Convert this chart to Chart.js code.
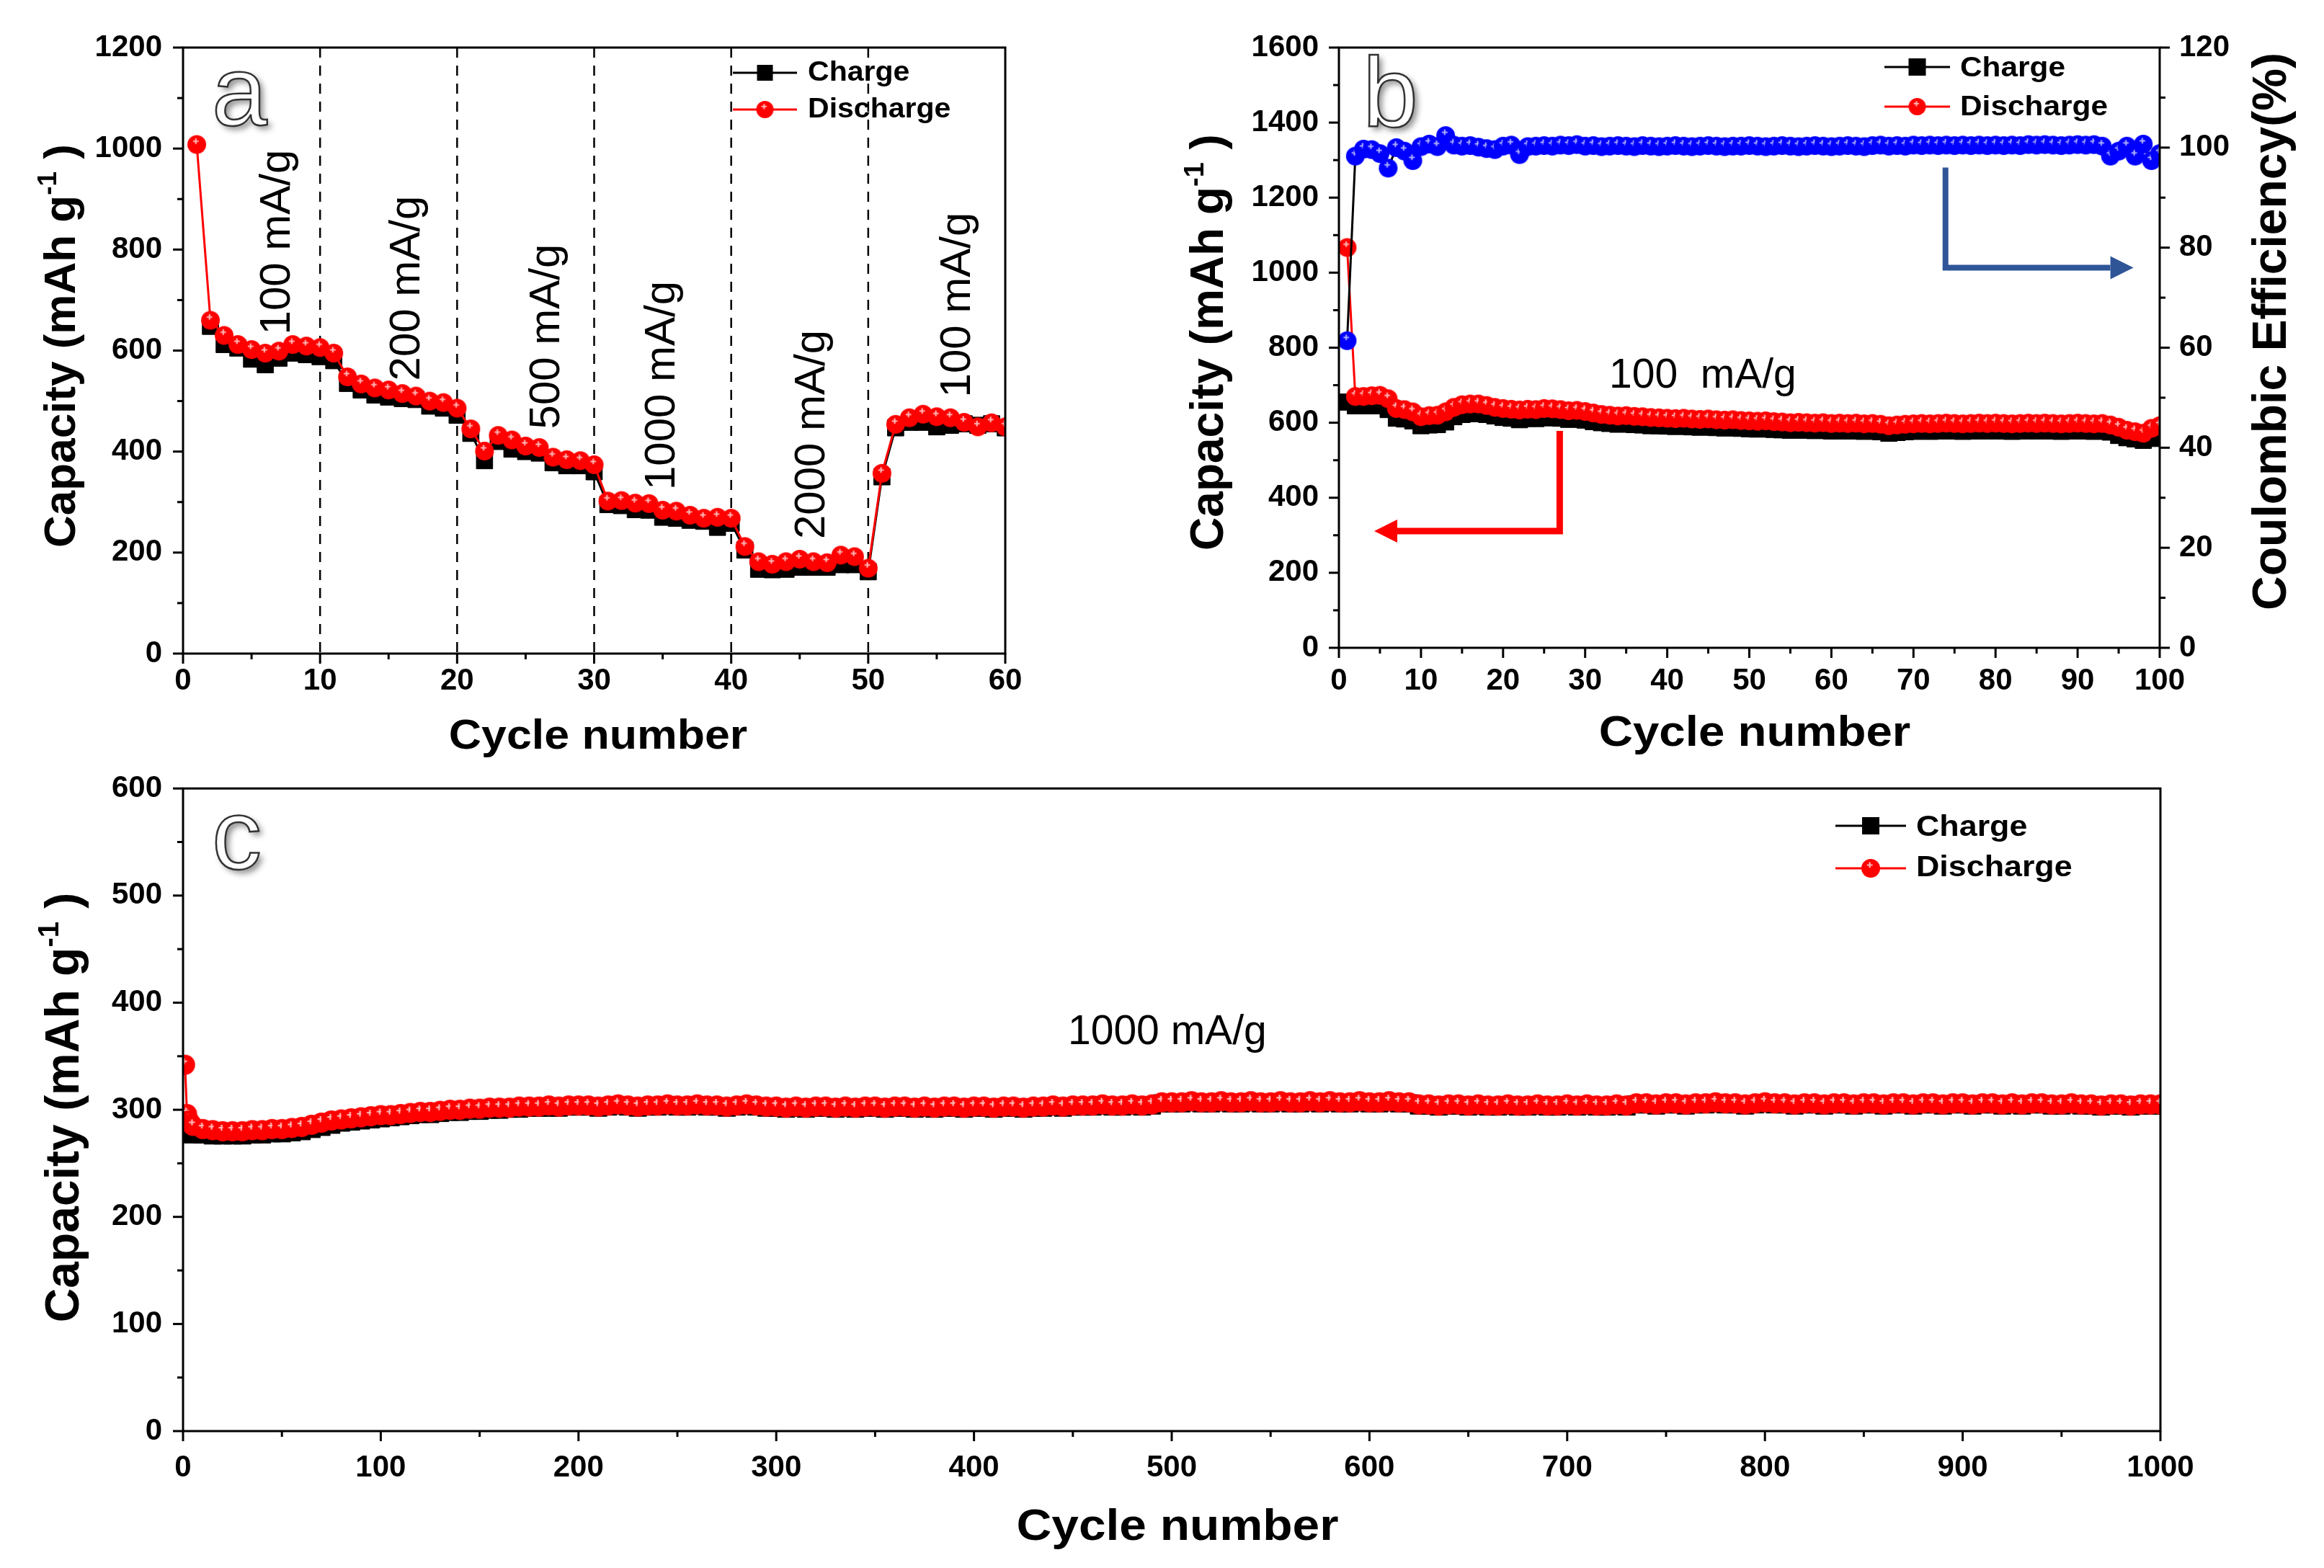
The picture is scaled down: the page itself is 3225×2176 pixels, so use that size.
<!DOCTYPE html>
<html><head><meta charset="utf-8">
<script src="https://cdn.jsdelivr.net/npm/chart.js@4.4.1/dist/chart.umd.min.js"></script>
<style>
html,body{margin:0;padding:0;background:#fff;}
#wrap{position:relative;width:3225px;height:2176px;background:#fff;overflow:hidden;}
canvas{position:absolute;}
</style></head><body>
<div id="wrap">
<canvas id="cA" width="1500" height="1080" style="left:0;top:0;width:1500px;height:1080px"></canvas>
<canvas id="cB" width="1665" height="1080" style="left:1560px;top:0;width:1665px;height:1080px"></canvas>
<canvas id="cC" width="3225" height="1136" style="left:0;top:1040px;width:3225px;height:1136px"></canvas>
</div>
<script>
const FONT = '"Liberation Sans", Arial, Helvetica, sans-serif';

// ---------- Panel a : rate capability ----------
const dischargeA = [1008,660,630,612,602,595,599,612,609,606, 595,548,534,526,522,515,510,500,497,486,
  445,401,432,423,411,408,389,384,382,374, 302,303,298,297,284,282,274,268,270,268,
  212,182,177,182,187,182,180,195,192,169, 357,454,467,474,469,467,458,449,457,449];
const chargeA = [null,648,612,605,583,572,585,595,592,588, 580,535,522,512,508,505,503,490,486,472,
  436,382,420,405,400,397,378,372,372,360, 295,293,285,284,270,268,264,262,250,258,
  205,167,166,167,171,171,171,176,176,162, 350,447,458,458,449,452,455,452,455,447];
const rateLabelsA = ['100 mA/g','200 mA/g','500 mA/g','1000 mA/g','2000 mA/g','100 mA/g'];
const rateBoundsA = [10,20,30,40,50];

// ---------- Panel b : cycling at 100 mA/g ----------
const dischargeB = [1067,670,670,672,673,664,638,635,629,616, 619,620,629,641,648,650,650,646,641,638,
  636,634,636,635,638,637,635,632,633,630, 626,622,620,618,619,617,616,614,613,612,
  611,612,610,609,610,608,607,608,606,605, 604,605,603,602,600,601,600,599,600,598,
  599,598,599,597,598,596,592,594,596,597, 598,597,598,599,598,597,598,599,598,599,
  598,597,598,599,598,599,598,597,598,599, 598,597,598,594,588,580,576,572,585,592];
const chargeB = [655,645,645,646,645,635,612,610,605,592, 594,595,602,616,622,624,625,622,618,614,
  612,608,612,611,614,613,612,609,610,607, 603,600,598,596,597,595,594,592,592,591,
  590,591,589,588,589,587,586,587,585,584, 583,584,582,581,580,581,580,579,580,578,
  579,578,579,577,578,576,572,574,576,577, 578,577,578,579,578,577,578,579,578,579,
  578,577,578,579,578,579,578,577,578,579, 578,577,578,575,566,560,557,553,558,562];
const ceB = [61.4,98.3,99.7,99.6,98.8,95.9,100.0,99.3,97.4,100.2, 100.7,100.2,102.4,100.5,100.3,100.4,100.1,99.8,99.6,100.3,
  100.5,98.6,100.2,100.3,100.4,100.3,100.5,100.4,100.6,100.3, 100.4,100.2,100.3,100.4,100.3,100.2,100.4,100.3,100.2,100.3,
  100.4,100.3,100.2,100.3,100.4,100.3,100.2,100.3,100.3,100.4, 100.3,100.2,100.3,100.4,100.3,100.2,100.3,100.4,100.3,100.2,
  100.3,100.4,100.3,100.2,100.4,100.5,100.3,100.4,100.3,100.5, 100.4,100.5,100.4,100.5,100.4,100.5,100.4,100.5,100.4,100.5,
  100.4,100.5,100.4,100.6,100.5,100.6,100.5,100.4,100.5,100.6, 100.5,100.6,100.3,98.3,99.3,100.3,98.3,100.7,97.4,98.8];

// ---------- Panel c : long cycling at 1000 mA/g (read every 5 cycles) ----------
const cycleC = [1,2,3,4].concat(Array.from({length:200}, (_, i) => 5 * (i + 1)));
const dischargeC = [342,296,290,287,
  285,282,281,280,280,280,281,281,282,282, 283,284,286,288,290,291,292,293,294,295,
  295,296,297,298,298,299,300,300,301,301, 302,302,302,303,303,303,304,303,304,304,
  304,303,304,305,304,303,304,304,305,304, 304,305,304,304,303,304,305,304,303,303,
  302,303,302,303,303,302,303,302,303,303, 302,303,303,302,303,302,303,303,302,303,
  303,302,303,303,302,303,303,304,303,304, 304,304,305,304,304,305,304,305,307,307,
  307,308,307,307,308,307,307,308,307,307, 308,307,307,308,307,308,307,307,308,307,
  307,308,307,307,305,305,304,305,305,304, 305,304,304,305,304,304,305,304,304,305,
  304,305,304,304,305,304,306,306,305,306, 306,305,306,306,307,306,306,305,306,307,
  306,306,305,306,306,305,306,306,305,306, 306,305,306,306,305,306,306,305,306,306,
  305,306,306,305,306,305,306,306,305,305, 306,305,305,304,305,305,304,305,305,305];
const chargeC = [290,283,279,278,
  277,277,276,276,276,276,277,277,278,278, 279,280,282,284,286,288,289,290,291,292,
  293,294,295,296,296,297,298,298,299,299, 300,300,301,301,302,302,302,302,303,303,
  303,302,303,304,303,302,303,303,304,303, 303,304,303,303,302,303,304,303,302,302,
  301,302,301,302,302,301,302,301,302,302, 301,302,302,301,302,301,302,302,301,302,
  302,301,302,302,301,302,302,303,302,303, 303,303,304,303,303,304,303,304,306,306,
  306,307,306,306,307,306,306,307,306,306, 307,306,306,307,306,307,306,306,307,306,
  306,307,306,306,304,304,303,304,304,303, 304,303,303,304,303,303,304,303,303,304,
  303,304,303,303,304,303,305,305,304,305, 305,304,305,305,306,305,305,304,305,306,
  305,305,304,305,305,304,305,305,304,305, 305,304,305,305,304,305,305,304,305,305,
  304,305,305,304,305,304,305,305,304,304, 305,304,304,303,304,304,303,304,304,304];

// ---------- helpers ----------
function cycles(n){ return Array.from({length:n}, (_, i) => i + 1); }
function pts(xs, ys){ return ys.map((y, i) => (y == null ? null : {x: xs[i], y: y})).filter(Boolean); }

function sprite(r, fill, spark){
  const c = document.createElement('canvas');
  const s = Math.ceil(2 * r + 2); c.width = s; c.height = s;
  const g = c.getContext('2d');
  g.fillStyle = fill; g.beginPath(); g.arc(s / 2, s / 2, r, 0, 2 * Math.PI); g.fill();
  g.strokeStyle = spark; g.lineWidth = Math.max(1.5, r * 0.16);
  const cx = s / 2 - r * 0.1, cy = s / 2 - r * 0.35, a = r * 0.3;
  g.beginPath(); g.moveTo(cx - a, cy); g.lineTo(cx + a, cy); g.moveTo(cx, cy - a); g.lineTo(cx, cy + a); g.stroke();
  return c;
}
const red12 = sprite(12, '#FF0000', '#FFB8B8');
const red13 = sprite(13, '#FF0000', '#FFB8B8');
const red14 = sprite(14, '#FF0000', '#FFB8B8');
const blue13 = sprite(13, '#0000FF', '#AEB0FF');

function frameAndTicks(chart, specs){
  const ctx = chart.ctx, a = chart.chartArea;
  ctx.save(); ctx.strokeStyle = '#000'; ctx.lineWidth = 3;
  ctx.strokeRect(a.left, a.top, a.right - a.left, a.bottom - a.top);
  specs.forEach(sp => {
    const s = chart.scales[sp.id];
    const n = Math.round((s.max - s.min) / sp.minor);
    for (let i = 0; i <= n; i++){
      const v = s.min + i * sp.minor;
      const major = Math.abs(v / sp.major - Math.round(v / sp.major)) < 1e-6;
      const len = major ? 14 : 8;
      const p = s.getPixelForValue(v);
      ctx.beginPath();
      if (sp.side === 'left'){ ctx.moveTo(a.left, p); ctx.lineTo(a.left - len, p); }
      else if (sp.side === 'right'){ ctx.moveTo(a.right, p); ctx.lineTo(a.right + len, p); }
      else { ctx.moveTo(p, a.bottom); ctx.lineTo(p, a.bottom + len); }
      ctx.stroke();
    }
  });
  ctx.restore();
}
function hText(ctx, text, x, y, size, weight, sx, align){
  ctx.save(); ctx.font = weight + ' ' + size + 'px ' + FONT; ctx.fillStyle = '#000';
  ctx.textBaseline = 'alphabetic'; ctx.textAlign = 'left';
  const w = ctx.measureText(text).width * sx;
  const x0 = align === 'center' ? x - w / 2 : x;
  ctx.translate(x0, y); ctx.scale(sx, 1); ctx.fillText(text, 0, 0); ctx.restore();
}
function vText(ctx, text, xBase, yCenter, size, weight){
  ctx.save(); ctx.font = weight + ' ' + size + 'px ' + FONT; ctx.fillStyle = '#000';
  ctx.translate(xBase, yCenter); ctx.rotate(-Math.PI / 2);
  ctx.textAlign = 'center'; ctx.textBaseline = 'alphabetic'; ctx.fillText(text, 0, 0); ctx.restore();
}
function capTitle(ctx, xBase, yCenter, size){
  ctx.save(); ctx.translate(xBase, yCenter); ctx.rotate(-Math.PI / 2);
  const big = 'bold ' + size + 'px ' + FONT, small = 'bold ' + Math.round(size * 0.6) + 'px ' + FONT;
  const p1 = 'Capacity (mAh g', p2 = '-1', p3 = ' )';
  ctx.font = big; const w1 = ctx.measureText(p1).width, w3 = ctx.measureText(p3).width;
  ctx.font = small; const w2 = ctx.measureText(p2).width;
  let x = -(w1 + w2 + w3) / 2;
  ctx.fillStyle = '#000'; ctx.textBaseline = 'alphabetic'; ctx.textAlign = 'left';
  ctx.font = big; ctx.fillText(p1, x, 0); x += w1;
  ctx.font = small; ctx.fillText(p2, x, -size * 0.42); x += w2;
  ctx.font = big; ctx.fillText(p3, x, 0);
  ctx.restore();
}
function panelLetter(ctx, ch, x, y){
  ctx.save(); ctx.font = '138px ' + FONT; ctx.textBaseline = 'alphabetic'; ctx.textAlign = 'left';
  ctx.shadowColor = 'rgba(0,0,0,0.45)'; ctx.shadowBlur = 8; ctx.shadowOffsetX = 5; ctx.shadowOffsetY = 5;
  ctx.fillStyle = '#fff'; ctx.fillText(ch, x, y);
  ctx.shadowColor = 'transparent'; ctx.lineWidth = 2.5; ctx.strokeStyle = '#333'; ctx.strokeText(ch, x, y);
  ctx.restore();
}
function legend(ctx, L){
  ctx.save(); ctx.lineWidth = 3;
  const cx = (L.x1 + L.x2) / 2;
  ctx.strokeStyle = '#000'; ctx.beginPath(); ctx.moveTo(L.x1, L.y1); ctx.lineTo(L.x2, L.y1); ctx.stroke();
  ctx.fillStyle = '#000'; ctx.fillRect(cx - L.sq / 2, L.y1 - L.sq / 2, L.sq, L.sq);
  ctx.strokeStyle = '#FF0000'; ctx.beginPath(); ctx.moveTo(L.x1, L.y2); ctx.lineTo(L.x2, L.y2); ctx.stroke();
  ctx.drawImage(L.dot, cx - L.dot.width / 2, L.y2 - L.dot.height / 2);
  ctx.restore();
  hText(ctx, 'Charge', L.tx, L.tb1, L.size, 'bold', L.sx, 'left');
  hText(ctx, 'Discharge', L.tx, L.tb2, L.size, 'bold', L.sx, 'left');
}
function arrow(chart, ar){
  const ctx = chart.ctx, xs = chart.scales.x, ys = chart.scales[ar.axis];
  const px = xs.getPixelForValue(ar.x0), py0 = ys.getPixelForValue(ar.y0), py1 = ys.getPixelForValue(ar.y1);
  const tip = xs.getPixelForValue(ar.x1), dir = Math.sign(tip - px), head = 32, hw = 16;
  ctx.save(); ctx.strokeStyle = ar.color; ctx.fillStyle = ar.color; ctx.lineWidth = ar.w; ctx.lineJoin = 'miter'; ctx.lineCap = 'butt';
  ctx.beginPath(); ctx.moveTo(px, py0); ctx.lineTo(px, py1); ctx.lineTo(tip - dir * head, py1); ctx.stroke();
  ctx.beginPath(); ctx.moveTo(tip, py1); ctx.lineTo(tip - dir * head, py1 - hw); ctx.lineTo(tip - dir * head, py1 + hw); ctx.closePath(); ctx.fill();
  ctx.restore();
}
function tickFont(){ return {family: FONT, size: 42, weight: 'bold'}; }
function axis(min, max, step, pad, fit, extra){
  return Object.assign({
    type: 'linear', min: min, max: max,
    grid: {display: false, drawTicks: false}, border: {display: false},
    ticks: {stepSize: step, font: tickFont(), color: '#000', padding: pad, maxRotation: 0, minRotation: 0,
            autoSkip: false, callback: v => String(v)},
    afterFit: fit
  }, extra || {});
}
Chart.defaults.font.family = FONT;
Chart.defaults.color = '#000';
const common = {responsive: false, animation: false, devicePixelRatio: 1, events: [],
  plugins: {legend: {display: false}, tooltip: {enabled: false}}};

// ---------- Chart a ----------
new Chart(document.getElementById('cA'), {
  type: 'line',
  data: {datasets: [
    {label: 'Discharge', data: pts(cycles(60), dischargeA), borderColor: '#FF0000', borderWidth: 3,
     pointStyle: red13, pointRadius: 13, order: 0, clip: 0, tension: 0},
    {label: 'Charge', data: pts(cycles(60), chargeA), borderColor: '#000', borderWidth: 3,
     pointStyle: 'rect', pointRadius: 16, pointBackgroundColor: '#000', pointBorderColor: '#000', pointBorderWidth: 1,
     order: 1, clip: 0, tension: 0}
  ]},
  options: Object.assign({}, common, {
    layout: {padding: {top: 66, right: 105, left: 0, bottom: 0}},
    scales: {
      x: axis(0, 60, 10, 13, s => { s.height = 173; }),
      y: axis(0, 1200, 200, 29, s => { s.width = 254; })
    }
  }),
  plugins: [{id: 'decorA',
    beforeDatasetsDraw(chart){
      const ctx = chart.ctx, a = chart.chartArea, xs = chart.scales.x;
      ctx.save(); ctx.strokeStyle = '#000'; ctx.lineWidth = 2.5; ctx.setLineDash([14, 11]);
      rateBoundsA.forEach(v => { const p = xs.getPixelForValue(v); ctx.beginPath(); ctx.moveTo(p, a.top); ctx.lineTo(p, a.bottom); ctx.stroke(); });
      ctx.restore();
    },
    afterDraw(chart){
      const ctx = chart.ctx;
      frameAndTicks(chart, [{id: 'x', side: 'bottom', major: 10, minor: 5}, {id: 'y', side: 'left', major: 200, minor: 100}]);
      const pos = [[402, 336], [582, 400], [776, 467], [936, 535], [1144, 603], [1346, 423]];
      rateLabelsA.forEach((t, i) => vText(ctx, t, pos[i][0], pos[i][1], 60, 'normal'));
      capTitle(ctx, 104, 480, 62);
      hText(ctx, 'Cycle number', 830, 1039, 58, 'bold', 1.08, 'center');
      legend(ctx, {x1: 1017, x2: 1106, y1: 101, y2: 152, tx: 1121, tb1: 112, tb2: 163, size: 38, sx: 1.08, sq: 22, dot: red12});
      panelLetter(ctx, 'a', 294, 174);
    }
  }]
});

// ---------- Chart b ----------
new Chart(document.getElementById('cB'), {
  type: 'line',
  data: {datasets: [
    {label: 'Coulombic Efficiency', data: pts(cycles(100), ceB), yAxisID: 'y1', borderColor: '#000', borderWidth: 3,
     pointStyle: blue13, pointRadius: 13, order: 0, clip: 0, tension: 0},
    {label: 'Discharge', data: pts(cycles(100), dischargeB), yAxisID: 'y', borderColor: '#FF0000', borderWidth: 3,
     pointStyle: red13, pointRadius: 13, order: 1, clip: 0, tension: 0},
    {label: 'Charge', data: pts(cycles(100), chargeB), yAxisID: 'y', borderColor: '#000', borderWidth: 3,
     pointStyle: 'rect', pointRadius: 16, pointBackgroundColor: '#000', pointBorderColor: '#000', pointBorderWidth: 1,
     order: 2, clip: 0, tension: 0}
  ]},
  options: Object.assign({}, common, {
    layout: {padding: {top: 66, right: 0, left: 0, bottom: 0}},
    scales: {
      x: axis(0, 100, 10, 21, s => { s.height = 181; }),
      y: axis(0, 1600, 200, 28, s => { s.width = 298; }, {position: 'left'}),
      y1: axis(0, 120, 20, 27, s => { s.width = 228; }, {position: 'right'})
    }
  }),
  plugins: [{id: 'decorB',
    afterDraw(chart){
      const ctx = chart.ctx;
      frameAndTicks(chart, [{id: 'x', side: 'bottom', major: 10, minor: 5}, {id: 'y', side: 'left', major: 200, minor: 100},
                            {id: 'y1', side: 'right', major: 20, minor: 10}]);
      arrow(chart, {axis: 'y', x0: 26.9, y0: 578, y1: 311, x1: 4.3, color: '#FF0000', w: 9});
      arrow(chart, {axis: 'y1', x0: 73.9, y0: 96, y1: 76, x1: 96.8, color: '#2F5597', w: 8});
      hText(ctx, '100  mA/g', 673, 538, 57, 'normal', 1, 'left');
      capTitle(ctx, 137, 475, 64);
      vText(ctx, 'Coulombic Efficiency(%)', 1612, 460, 66, 'bold');
      hText(ctx, 'Cycle number', 875, 1035, 60, 'bold', 1.09, 'center');
      legend(ctx, {x1: 1055, x2: 1146, y1: 93, y2: 148, tx: 1160, tb1: 106, tb2: 160, size: 39, sx: 1.087, sq: 24, dot: red12});
      panelLetter(ctx, 'b', 331, 176);
    }
  }]
});

// ---------- Chart c ----------
new Chart(document.getElementById('cC'), {
  type: 'line',
  data: {datasets: [
    {label: 'Discharge', data: pts(cycleC, dischargeC), borderColor: '#FF0000', borderWidth: 3,
     pointStyle: red14, pointRadius: 14, order: 0, clip: 0, tension: 0},
    {label: 'Charge', data: pts(cycleC, chargeC), borderColor: '#000', borderWidth: 3,
     pointStyle: 'rect', pointRadius: 17, pointBackgroundColor: '#000', pointBorderColor: '#000', pointBorderWidth: 1,
     order: 1, clip: 0, tension: 0}
  ]},
  options: Object.assign({}, common, {
    layout: {padding: {top: 44, right: 227, left: 0, bottom: 0}},
    scales: {
      x: axis(0, 1000, 100, 26, s => { s.height = 190; }),
      y: axis(0, 600, 100, 29, s => { s.width = 254; })
    }
  }),
  plugins: [{id: 'decorC',
    afterDraw(chart){
      const ctx = chart.ctx;
      frameAndTicks(chart, [{id: 'x', side: 'bottom', major: 100, minor: 50}, {id: 'y', side: 'left', major: 100, minor: 50}]);
      hText(ctx, '1000 mA/g', 1482, 409, 57, 'normal', 1, 'left');
      capTitle(ctx, 109, 497, 66);
      hText(ctx, 'Cycle number', 1634, 1097, 62, 'bold', 1.09, 'center');
      legend(ctx, {x1: 2547, x2: 2645, y1: 106, y2: 165, tx: 2659, tb1: 120, tb2: 176, size: 40, sx: 1.12, sq: 24, dot: red13});
      panelLetter(ctx, 'c', 294, 166);
    }
  }]
});
</script>
</body></html>
